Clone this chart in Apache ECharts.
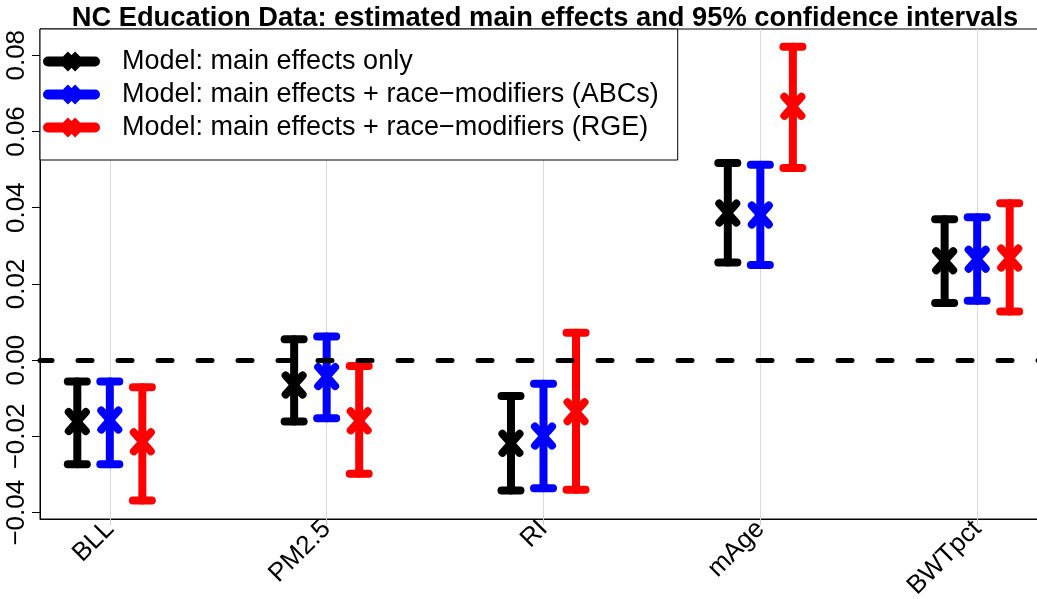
<!DOCTYPE html>
<html>
<head>
<meta charset="utf-8">
<script src="https://cdn.jsdelivr.net/npm/echarts@6/dist/echarts.min.js"></script>
<style>
html,body{margin:0;padding:0;background:#fff;}
#chart{width:1037px;height:599px;}
</style>
</head>
<body>
<div id="chart"></div>
<script>
// ---- data ----
const categories = ['BLL', 'PM2.5', 'RI', 'mAge', 'BWTpct'];
const seriesNames = [
  'Model: main effects only',
  'Model: main effects + race\u2212modifiers (ABCs)',
  'Model: main effects + race\u2212modifiers (RGE)'
];
// main effects only
const mainEst = [-0.0161, -0.0065, -0.0218, 0.0386, 0.0261];
const mainLo  = [-0.0273, -0.0161, -0.0342, 0.0256, 0.0150];
const mainHi  = [-0.0056,  0.0055, -0.0094, 0.0517, 0.0370];
// race-modifiers (ABCs)
const abcEst = [-0.0157, -0.0043, -0.0199, 0.0381, 0.0265];
const abcLo  = [-0.0273, -0.0152, -0.0336, 0.0250, 0.0156];
const abcHi  = [-0.0056,  0.0062, -0.0062, 0.0513, 0.0375];
// race-modifiers (RGE)
const rgeEst = [-0.0214, -0.0159, -0.0135, 0.0666, 0.0268];
const rgeLo  = [-0.0368, -0.0298, -0.0340, 0.0504, 0.0128];
const rgeHi  = [-0.0071, -0.0015,  0.0072, 0.0822, 0.0412];
const yTicks = [-0.04, -0.02, 0.00, 0.02, 0.04, 0.06, 0.08];
const refValue = 0;

// ---- rendering ----
const colors = ['#000000', '#0000ff', '#ff0000'];
const dodge = [-0.15, 0, 0.15];
const groups = [[mainEst, mainLo, mainHi], [abcEst, abcLo, abcHi], [rgeEst, rgeLo, rgeHi]];
const catPos = categories.map((c, i) => i + 1);

const legendIcon = 'path://M5,5 L52,5 A5,5 0 0 1 52,15 L5,15 A5,5 0 0 1 5,5 Z ' +
  'M24.88,0.02 L38.48,13.62 L32.12,19.98 L18.52,6.38 Z ' +
  'M18.52,13.62 L32.12,0.02 L38.48,6.38 L24.88,19.98 Z';

function makeRender(si) {
  return function (params, api) {
    const x = api.value(0) + dodge[si];
    const pE = api.coord([x, api.value(1)]);
    const pL = api.coord([x, api.value(2)]);
    const pH = api.coord([x, api.value(3)]);
    const st = {stroke: colors[si], lineWidth: 8, lineCap: 'round', fill: null};
    const cw = 9.5, xw = 8.5, xh = 9.5;
    return {
      type: 'group',
      children: [
        {type: 'line', shape: {x1: pL[0], y1: pL[1], x2: pH[0], y2: pH[1]}, style: st},
        {type: 'line', shape: {x1: pL[0] - cw, y1: pL[1], x2: pL[0] + cw, y2: pL[1]}, style: st},
        {type: 'line', shape: {x1: pH[0] - cw, y1: pH[1], x2: pH[0] + cw, y2: pH[1]}, style: st},
        {type: 'line', shape: {x1: pE[0] - xw, y1: pE[1] - xh, x2: pE[0] + xw, y2: pE[1] + xh}, style: st},
        {type: 'line', shape: {x1: pE[0] - xw, y1: pE[1] + xh, x2: pE[0] + xw, y2: pE[1] - xh}, style: st}
      ]
    };
  };
}

const series = groups.map((g, si) => {
  const s = {
    name: seriesNames[si],
    type: 'custom',
    color: colors[si],
    itemStyle: {color: colors[si]},
    renderItem: makeRender(si),
    encode: {x: 0, y: [1, 2, 3]},
    data: catPos.map((p, i) => [p, g[0][i], g[1][i], g[2][i]]),
    z: 2,
    silent: true
  };
  if (si === 2) {
    s.markLine = {
      silent: true,
      symbol: ['none', 'none'],
      label: {show: false},
      z: 5,
      lineStyle: {color: '#000', width: 5, type: [14, 26], cap: 'round', dashOffset: 2},
      data: [{yAxis: refValue}]
    };
  }
  return s;
});

const chart = echarts.init(document.getElementById('chart'), null, {renderer: 'canvas'});
chart.setOption({
  animation: false,
  backgroundColor: '#fff',
  textStyle: {fontFamily: 'Liberation Sans'},
  title: {
    text: 'NC Education Data: estimated main effects and 95% confidence intervals',
    left: 540, top: 0, textAlign: 'center',
    textStyle: {fontFamily: 'Liberation Sans', fontWeight: 'bold', fontSize: 27.3, color: '#000'}
  },
  legend: {
    left: 40, top: 29, orient: 'vertical',
    backgroundColor: '#fff', borderColor: '#000', borderWidth: 1,
    padding: [16, 19, 16, 3],
    itemGap: 0, itemWidth: 57, itemHeight: 20,
    data: seriesNames.map(n => ({name: n, icon: legendIcon})),
    textStyle: {fontFamily: 'Liberation Sans', fontSize: 27, lineHeight: 33, color: '#000', padding: [0, 0, 0, 17]},
    selectedMode: false,
    z: 10
  },
  grid: {left: 40, top: 29, width: 1007, height: 490, outerBoundsMode: 'none', containLabel: false,
    show: true, borderColor: '#000', borderWidth: 1, backgroundColor: 'transparent'},
  xAxis: {
    type: 'value', min: 0.678, max: 5.322, minInterval: 1, maxInterval: 1,
    axisLine: {show: true, onZero: false, lineStyle: {color: '#000', width: 1}},
    axisTick: {show: true, length: 6, lineStyle: {color: '#cccccc'}, customValues: catPos},
    axisLabel: {
      customValues: catPos, rotate: 45, margin: 6, fontSize: 26, color: '#000', fontFamily: 'Liberation Sans',
      formatter: v => categories[Math.round(v) - 1] || ''
    },
    splitLine: {show: true, lineStyle: {color: '#d9d9d9', width: 1}}
  },
  yAxis: {
    type: 'value', min: -0.04165, max: 0.08688,
    axisLine: {show: true, onZero: false, lineStyle: {color: '#000', width: 1}},
    axisTick: {show: true, length: 8, lineStyle: {color: '#000'}, customValues: yTicks},
    axisLabel: {
      customValues: yTicks, rotate: 90, margin: 10, fontSize: 26, color: '#000', fontFamily: 'Liberation Sans',
      formatter: v => (v < 0 ? '\u2212' : '') + Math.abs(v).toFixed(2)
    },
    splitLine: {show: false}
  },
  series: series
});
</script>
</body>
</html>
